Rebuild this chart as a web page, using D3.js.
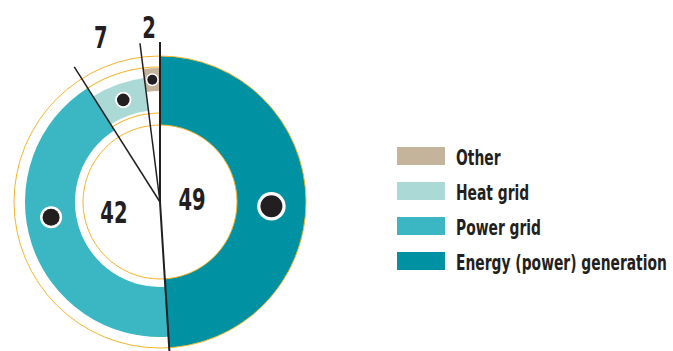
<!DOCTYPE html>
<html>
<head>
<meta charset="utf-8">
<script src="https://cdn.jsdelivr.net/npm/d3@7"></script>
<style>
  html, body { margin: 0; padding: 0; background: #fff; }
  svg { display: block; }
  text { font-family: 'Liberation Sans Narrow', 'Arial Narrow', 'DejaVu Sans Condensed', sans-serif; font-weight: bold; fill: #231f20; }
</style>
</head>
<body>
<svg id="chart" width="673" height="351"></svg>
<script>
// ---- data ----
const categories = ["Energy (power) generation", "Power grid", "Heat grid", "Other"];
const values = [49, 42, 7, 2];
const legendOrder = ["Other", "Heat grid", "Power grid", "Energy (power) generation"];

// ---- style ----
const colors = ["#0092a2", "#3bb7c3", "#abd9d6", "#c3b49b"];
const ringInner = [77, 85, 92, 111];
const ringOuter = [146, 135, 125, 134];
const dotAngleShift = [4, 10, 0, 0]; // degrees, visual nudge
const yellow = "#f6b42c";
const ink = "#231f20";
const cx = 160, cy = 202;

const svg = d3.select("#chart");
const g = svg.append("g").attr("transform", `translate(${cx},${cy})`);

const data = categories.map((c, i) => ({ cat: c, value: values[i], i }));
const pie = d3.pie().sort(null).value(d => d.value).startAngle(0).endAngle(2 * Math.PI);
const arcs = pie(data);

const color = d3.scaleOrdinal().domain(categories).range(colors);

// rings
g.selectAll("path.seg").data(arcs).join("path")
  .attr("class", "seg")
  .attr("fill", d => color(d.data.cat))
  .attr("d", d => d3.arc().innerRadius(ringInner[d.data.i]).outerRadius(ringOuter[d.data.i])(d));

// yellow guide circles / arcs
[77, 146].forEach(r => {
  g.append("circle").attr("r", r).attr("fill", "none").attr("stroke", yellow).attr("stroke-width", 1);
});
const heatStart = arcs[2].startAngle;
[135, 89].forEach(r => {
  g.append("path").attr("fill", yellow)
    .attr("d", d3.arc().innerRadius(r - 0.5).outerRadius(r + 0.5).startAngle(heatStart - 0.01).endAngle(2 * Math.PI)());
});

// boundary lines
const L = 160;
g.selectAll("line.sep").data(arcs).join("line")
  .attr("class", "sep")
  .attr("x1", 0).attr("y1", 0)
  .attr("x2", d => L * Math.sin(d.startAngle))
  .attr("y2", d => -L * Math.cos(d.startAngle))
  .attr("stroke", ink)
  .attr("stroke-width", (d, i) => i < 2 ? 2 : 1.5);

// dots
arcs.forEach(d => {
  const i = d.data.i;
  const w = ringOuter[i] - ringInner[i];
  const rb = 2 + w * 0.13;
  const mid = (d.startAngle + d.endAngle) / 2 + dotAngleShift[i] * Math.PI / 180;
  const rm = (ringInner[i] + ringOuter[i]) / 2;
  const x = rm * Math.sin(mid), y = -rm * Math.cos(mid);
  g.append("circle").attr("cx", x).attr("cy", y).attr("r", rb * 1.3).attr("fill", "#fff");
  g.append("circle").attr("cx", x).attr("cy", y).attr("r", rb).attr("fill", ink);
});

// legend
const legend = svg.append("g");
const legendRows = legend.selectAll("g.row").data(legendOrder).join("g")
  .attr("class", "row")
  .attr("transform", (d, i) => `translate(397,${147 + i * 35})`);
legendRows.append("rect").attr("width", 48).attr("height", 18).attr("fill", d => color(d));
const legendTexts = legendRows.append("text").attr("font-size", 22).text(d => d);

// measure compression factor
const longest = legendTexts.filter(d => d === "Energy (power) generation").node();
const k = Math.min(1, 211 / longest.getComputedTextLength());
legendTexts.attr("transform", `translate(59,17.5) scale(${k},1)`);

// value labels
const fmt = d3.format("d");
arcs.forEach(d => {
  const mid = (d.startAngle + d.endAngle) / 2;
  let x, y;
  if (d.data.value >= 20) {
    x = -8 + 40 * Math.sin(mid); y = -2 - 40 * Math.cos(mid);
  } else {
    x = 175 * Math.sin(mid); y = -175 * Math.cos(mid);
  }
  g.append("text")
    .attr("font-size", 31)
    .attr("text-anchor", "middle")
    .attr("transform", `translate(${x},${y + 11}) scale(${k},1)`)
    .text(fmt(d.data.value));
});
</script>
</body>
</html>
